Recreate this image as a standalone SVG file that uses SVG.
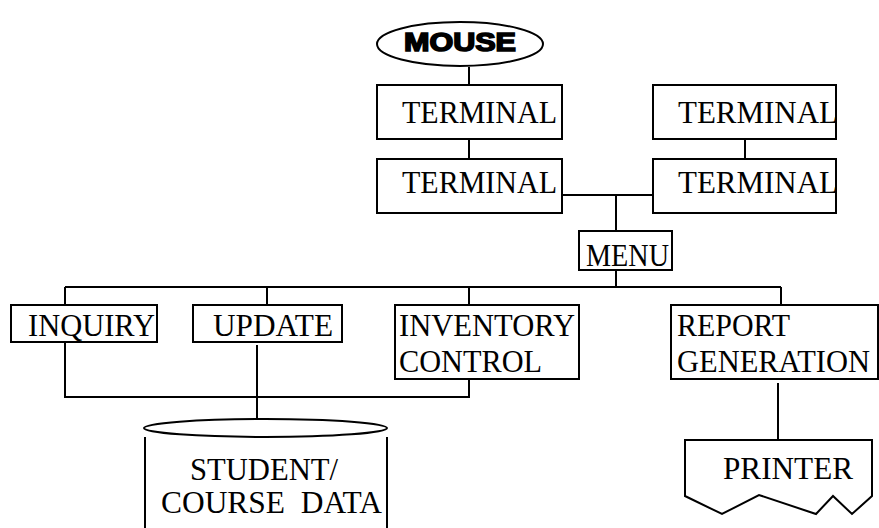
<svg xmlns="http://www.w3.org/2000/svg" width="879" height="528" viewBox="0 0 879 528">
<style>
.box{fill:#fff;stroke:#000;stroke-width:2}
.ln{fill:none;stroke:#000;stroke-width:2}
.t{font-family:"Liberation Serif","Times New Roman",serif;font-size:32px;fill:#000}
.m{font-family:"Liberation Sans",Arial,sans-serif;font-weight:900;font-size:25px;fill:#000;stroke:#000;stroke-width:1.6}
</style>
<rect width="879" height="528" fill="#fff"/>
<g id="connectors">
<path class="ln" d="M469 67V85"/>
<path class="ln" d="M469 139V159"/>
<path class="ln" d="M745 139V159"/>
<path class="ln" d="M562 195H653M616 195V231"/>
<path class="ln" d="M616 270V287M65 287H781M65 287V305M267 287V305M469 287V305M781 287V305"/>
<path class="ln" d="M65 342V397H469V379"/>
<path class="ln" d="M257 345V419"/>
<path class="ln" d="M778 383V440"/>
</g>
<g id="mouse">
<ellipse class="box" cx="460" cy="44" rx="83" ry="22"/>
<text class="m" x="404" y="51" textLength="112" lengthAdjust="spacingAndGlyphs">MOUSE</text>
</g>
<g id="terminal1">
<rect class="box" x="377" y="85" width="185" height="54"/>
<text class="t" x="402" y="123" textLength="155" lengthAdjust="spacingAndGlyphs">TERMINAL</text>
</g>
<g id="terminal2">
<rect class="box" x="377" y="159" width="185" height="54"/>
<text class="t" x="402" y="193" textLength="155" lengthAdjust="spacingAndGlyphs">TERMINAL</text>
</g>
<g id="terminal3">
<rect class="box" x="653" y="85" width="183" height="54"/>
<text class="t" x="678" y="123" textLength="160" lengthAdjust="spacingAndGlyphs">TERMINAL</text>
</g>
<g id="terminal4">
<rect class="box" x="653" y="159" width="183" height="54"/>
<text class="t" x="678" y="193" textLength="160" lengthAdjust="spacingAndGlyphs">TERMINAL</text>
</g>
<g id="menu">
<rect class="box" x="579" y="231" width="93" height="39"/>
<text class="t" x="586" y="266" textLength="83" lengthAdjust="spacingAndGlyphs">MENU</text>
</g>
<g id="inquiry">
<rect class="box" x="11" y="305" width="146" height="37"/>
<text class="t" x="28" y="336" textLength="127" lengthAdjust="spacingAndGlyphs">INQUIRY</text>
</g>
<g id="update">
<rect class="box" x="193" y="305" width="149" height="37"/>
<text class="t" x="213" y="336" textLength="120" lengthAdjust="spacingAndGlyphs">UPDATE</text>
</g>
<g id="inventory">
<rect class="box" x="395" y="305" width="184" height="74"/>
<text class="t" x="399" y="336" textLength="176" lengthAdjust="spacingAndGlyphs">INVENTORY</text>
<text class="t" x="399" y="372" textLength="143" lengthAdjust="spacingAndGlyphs">CONTROL</text>
</g>
<g id="report">
<rect class="box" x="671" y="305" width="207" height="74"/>
<text class="t" x="677" y="336" textLength="113" lengthAdjust="spacingAndGlyphs">REPORT</text>
<text class="t" x="677" y="372" textLength="193" lengthAdjust="spacingAndGlyphs">GENERATION</text>
</g>
<g id="database">
<path class="ln" d="M145 437V529M387 437V529"/>
<ellipse class="box" cx="265.5" cy="428" rx="121.5" ry="9"/>
<text class="t" x="190" y="480" textLength="148" lengthAdjust="spacingAndGlyphs">STUDENT/</text>
<text class="t" x="161" y="513" xml:space="preserve" style="white-space:pre" textLength="221" lengthAdjust="spacingAndGlyphs">COURSE  DATA</text>
</g>
<g id="printer">
<path class="box" d="M685 440H872V496L852 514L833 496L816 514L759 495L722 514L685 496Z"/>
<text class="t" x="723" y="479" textLength="130" lengthAdjust="spacingAndGlyphs">PRINTER</text>
</g>
</svg>
